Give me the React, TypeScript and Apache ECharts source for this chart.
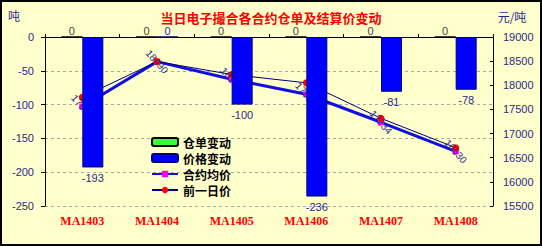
import React, { useEffect, useRef } from "react";
import * as echarts from "echarts";

const categories = ["MA1403", "MA1404", "MA1405", "MA1406", "MA1407", "MA1408"];
const warrantChange = [0, 0, 0, 0, 0, 0];
const priceChange = [-193, 0, -100, -236, -81, -78];
const avgPrice = [17560, 18490, 18124, 17814, 17234, 16630];
const prevPrice = [17753, 18490, 18224, 18050, 17315, 16708];
const leftAxisRange = { min: -250, max: 0, interval: 50 };
const rightAxisRange = { min: 15500, max: 19000, interval: 500 };
const titleText = "当日电子撮合各合约仓单及结算价变动";
const leftUnit = "吨";
const rightUnit = "元/吨";

const NAVY = "#2a2a8c";
const CJK = "'Noto Sans CJK SC', sans-serif";
const NUM = "'Liberation Sans', 'DejaVu Sans', sans-serif";

const barItems = (values: number[], dist: number) =>
  values.map((v) => ({
    value: v,
    label: { position: v < 0 ? "bottom" : "top", distance: v < 0 ? dist : 0 },
  }));

export default function App() {
  const ref = useRef<HTMLDivElement>(null);
  useEffect(() => {
    if (!ref.current) return;
    const chart = echarts.init(ref.current, undefined, { renderer: "svg" });
    chart.setOption({
      animation: false,
      backgroundColor: "#FFFFCC",
      title: {
        text: titleText,
        left: "center",
        top: 6,
        padding: [5, 5, 0, 5],
        textStyle: { color: "#FF0000", fontSize: 13, lineHeight: 12, fontWeight: "bold", fontFamily: CJK },
      },
      graphic: [
        {
          type: "rect",
          shape: { x: 1, y: 1, width: 540, height: 244 },
          style: { fill: "none", stroke: "#000", lineWidth: 2 },
          silent: true,
        },
        {
          type: "text",
          x: 14,
          y: 15,
          style: { text: leftUnit, fill: NAVY, font: `12px ${CJK}`, align: "center", verticalAlign: "middle" },
        },
        {
          type: "text",
          x: 512,
          y: 16,
          style: { text: rightUnit, fill: NAVY, font: `12px ${CJK}`, align: "center", verticalAlign: "middle" },
        },
      ],
      legend: {
        orient: "vertical",
        left: 146,
        top: 131,
        itemWidth: 26,
        itemHeight: 8,
        itemGap: 4,
        textStyle: { color: "#000", fontSize: 12, fontWeight: "bold", fontFamily: CJK, lineHeight: 12, padding: [0, 0, 0, 0] },
        data: ["仓单变动", "价格变动", "合约均价", "前一日价"],
      },
      grid: { left: 45, top: 37, width: 448, height: 169 },
      xAxis: [
        {
          type: "category",
          data: categories,
          position: "bottom",
          axisLine: { lineStyle: { color: "#000", width: 1 } },
          axisTick: { show: false },
          axisLabel: { color: "#FF0000", fontSize: 12, fontWeight: "bold", fontFamily: "'Liberation Serif', serif", margin: 9 },
        },
        {
          type: "category",
          data: categories,
          position: "top",
          axisLine: { lineStyle: { color: "#000", width: 1 } },
          axisTick: { show: true, inside: false, length: 3, lineStyle: { color: "#000" } },
          axisLabel: { show: false },
        },
      ],
      yAxis: [
        {
          type: "value",
          position: "left",
          min: leftAxisRange.min,
          max: leftAxisRange.max,
          interval: leftAxisRange.interval,
          axisLine: { show: true, lineStyle: { color: "#000" } },
          axisTick: { show: true, length: 4, lineStyle: { color: "#000" } },
          axisLabel: { color: NAVY, fontSize: 11, fontFamily: NUM, margin: 11 },
          splitLine: { show: true, lineStyle: { color: "#A8A8A8", type: [3, 3] } },
        },
        {
          type: "value",
          position: "right",
          min: rightAxisRange.min,
          max: rightAxisRange.max,
          interval: rightAxisRange.interval,
          axisLine: { show: true, lineStyle: { color: "#000" } },
          axisTick: { show: true, inside: true, length: 3, lineStyle: { color: "#000" } },
          axisLabel: { color: NAVY, fontSize: 11, fontFamily: NUM, margin: 10, formatter: (v: number) => String(v) },
          splitLine: { show: false },
        },
      ],
      series: [
        {
          name: "仓单变动",
          type: "bar",
          xAxisIndex: 0,
          yAxisIndex: 0,
          data: barItems(warrantChange, 5),
          barWidth: 21,
          barGap: "0%",
          z: 3,
          itemStyle: { color: "#33FF33", borderColor: "#000", borderWidth: 1 },
          label: { show: true, color: "#444", fontSize: 11, lineHeight: 11, fontFamily: NUM },
        },
        {
          name: "价格变动",
          type: "bar",
          xAxisIndex: 0,
          yAxisIndex: 0,
          data: barItems(priceChange, 5),
          barWidth: 21,
          barGap: "0%",
          z: 3,
          itemStyle: { color: "#0000FF", borderColor: "#00007a", borderWidth: 1 },
          label: { show: true, color: NAVY, fontSize: 11, lineHeight: 11, fontFamily: NUM },
        },
        {
          name: "合约均价",
          type: "line",
          xAxisIndex: 1,
          yAxisIndex: 1,
          data: avgPrice,
          z: 2,
          symbol: "rect",
          symbolSize: 6,
          lineStyle: { color: "#1010E0", width: 3 },
          itemStyle: { color: "#FF00FF" },
          label: {
            show: true,
            position: "inside",
            rotate: -48,
            color: NAVY,
            fontSize: 10,
            fontFamily: NUM,
          },
        },
        {
          name: "前一日价",
          type: "line",
          xAxisIndex: 1,
          yAxisIndex: 1,
          data: prevPrice,
          z: 2,
          symbol: "circle",
          symbolSize: 7,
          lineStyle: { color: "#000080", width: 1 },
          itemStyle: { color: "#FF0000" },
        },
      ],
    });
    return () => chart.dispose();
  }, []);
  return <div ref={ref} style={{ position: "fixed", left: 0, top: 0, width: 542, height: 246 }} />;
}
